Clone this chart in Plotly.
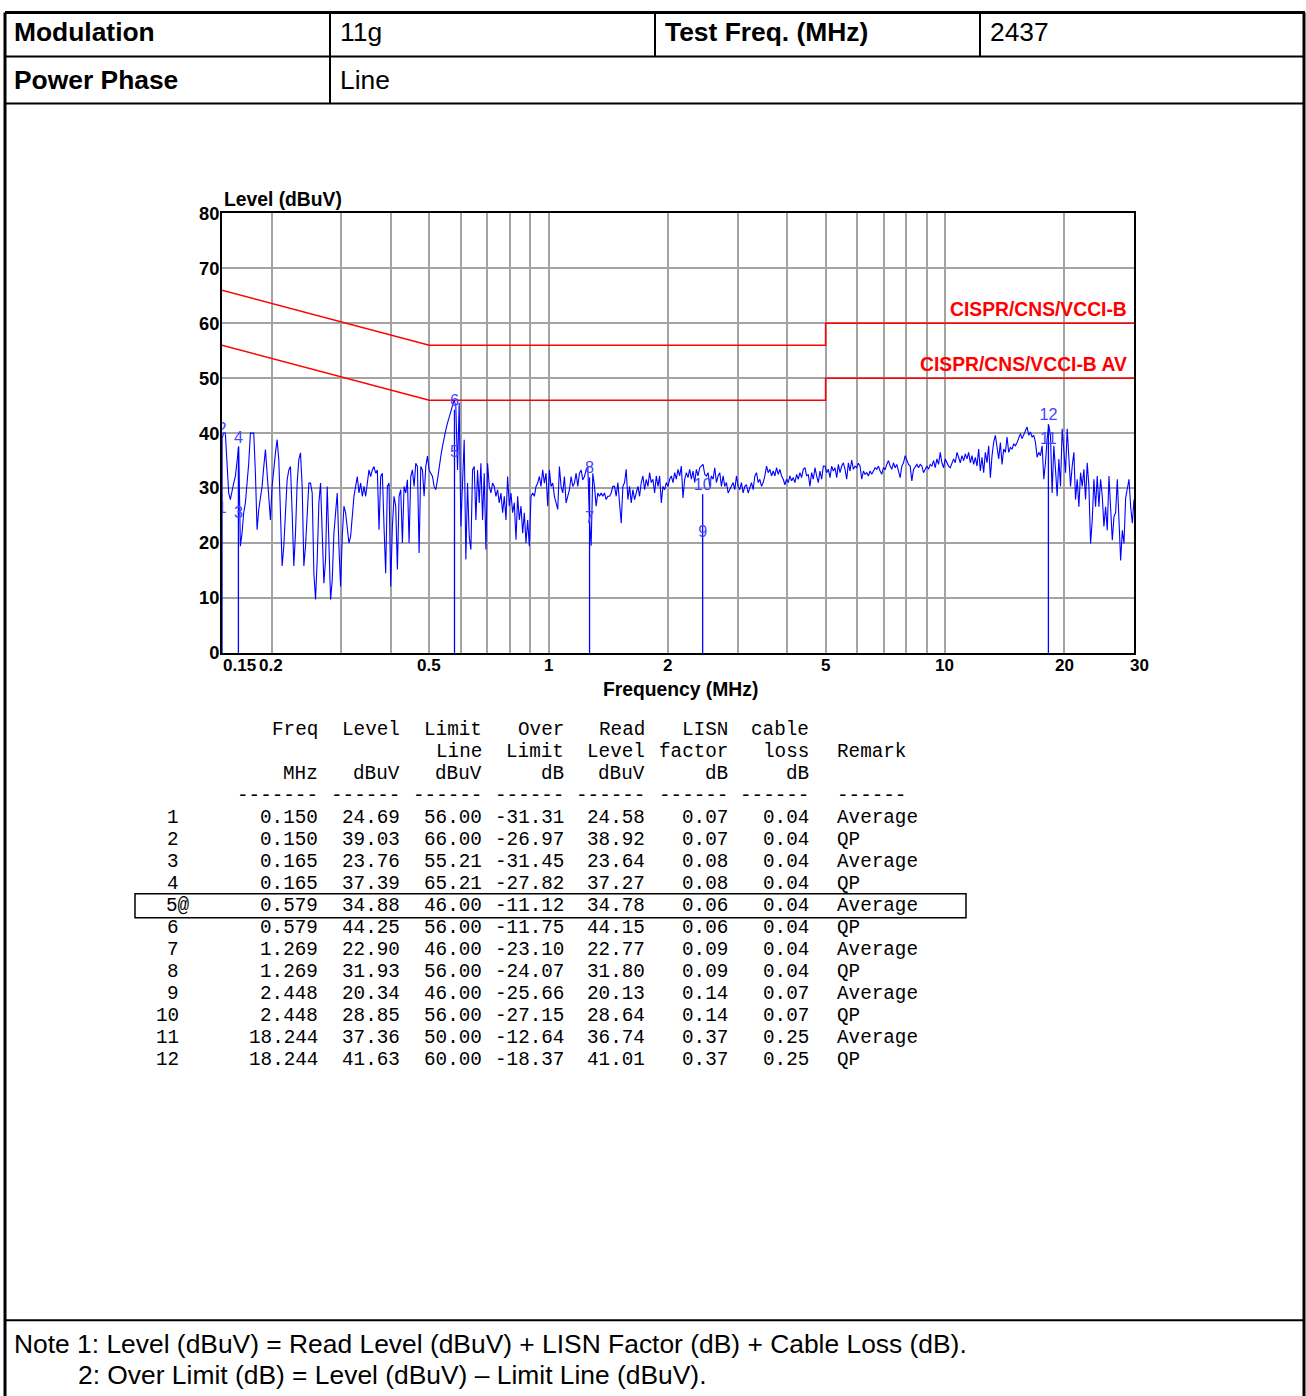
import numpy as np
import plotly.graph_objects as go

W, H = 1322, 1406
# reference-pixel -> figure-pixel mapping (measured from the rendered page)
AX, SX = 0.0, 1.0
AY, SY = 9.5, 0.986
FS = 1.015  # font scale
SANS = "Liberation Sans, Arial, Helvetica, sans-serif"
MONO = "Liberation Mono, Courier New, monospace"

hdr_modulation = "11g"
hdr_test_freq = "2437"
hdr_phase = "Line"

qp_limit_freq = [0.15, 0.5, 5, 5, 30]
qp_limit_level = [66, 56, 56, 60, 60]
av_limit_freq = [0.15, 0.5, 5, 5, 30]
av_limit_level = [56, 46, 46, 50, 50]
qp_limit_name = "CISPR/CNS/VCCI-B"
av_limit_name = "CISPR/CNS/VCCI-B AV"

sweep_level_a = [39.0, 40.0, 40.0, 33.9, 29.1, 27.9, 29.7, 30.9, 32.1, 34.5,
                 37.6, 19.4, 21.8, 25.5, 27.3, 30.9, 34.5, 40.0, 40.0, 40.0,
                 32.7, 22.4, 26.1, 28.5, 30.3, 33.9, 37.0, 32.7, 27.3, 24.2,
                 30.3, 33.9, 36.4, 38.8, 35.2, 25.5, 15.8, 19.4, 26.7, 31.5,
                 33.3, 33.9, 25.5, 15.8, 21.8, 30.9, 35.2, 36.4, 30.3, 15.8,
                 19.4, 25.5, 30.9, 30.9, 29.1, 14.5, 9.7, 17.0, 27.3, 30.9,
                 21.2, 12.7, 17.0, 30.3, 20.0, 9.7, 13.3, 21.8, 25.5, 29.1,
                 19.4, 12.1, 21.2, 26.7, 25.5, 22.4, 20.0, 21.2, 25.5, 28.5,
                 30.3, 32.1, 29.1, 30.9, 28.5, 30.3, 28.5, 31.5, 33.3, 32.1,
                 33.3, 33.9, 32.7, 33.3, 22.4, 32.1, 32.7, 23.0, 14.5, 30.3,
                 30.9, 12.1, 23.0, 28.5, 26.7, 15.2, 28.5, 29.7, 20.0, 30.3,
                 29.1, 31.5, 20.0, 32.1, 33.3, 30.3, 34.5, 33.9]
sweep_level_b = [18.2, 33.9, 33.3, 28.5, 33.9, 35.8, 33.3, 32.7, 32.1, 30.3,
                 29.7, 31.5, 33.9, 35.8, 37.6, 39.4, 40.6, 41.8, 43.0, 44.2,
                 45.0, 46.0, 44.8, 33.3, 45.5, 23.0, 30.3, 38.8, 17.0, 30.9,
                 21.2, 18.8, 33.3, 33.9, 24.2, 33.3, 27.3, 34.5, 24.2, 32.7,
                 18.8, 34.5, 30.3, 29.1, 30.9, 30.3, 28.5, 29.7, 27.3, 29.1,
                 25.5, 28.5, 24.2, 32.1, 26.7, 29.1, 25.5, 27.3, 20.6, 28.5,
                 24.2, 26.7, 21.8, 25.5, 20.0, 24.2, 19.4, 28.5, 29.1, 28.5,
                 30.3, 30.9, 32.1, 30.3, 33.3, 30.9, 32.7, 26.7, 33.3, 30.3,
                 30.9, 28.5, 27.3, 26.1, 33.9, 30.3, 29.1, 32.1, 27.3, 28.5,
                 29.7, 32.1, 30.3, 30.9, 32.7, 30.3, 32.7, 33.3, 31.5, 32.1,
                 33.3, 33.9, 24.2, 19.5, 32.7, 30.3, 26.7, 29.1, 28.5, 29.1,
                 28.5, 29.1, 27.9, 28.5, 28.5, 29.1, 30.3]
sweep_level_c = [30.3, 28.5, 31.0, 27.3, 23.6, 30.3, 31.0, 33.4, 27.9, 30.3,
                 27.3, 29.7, 27.9, 29.1, 30.3, 28.5, 31.0, 32.2, 29.7, 31.6,
                 30.3, 32.8, 31.0, 31.6, 29.1, 32.2, 30.3, 32.2, 27.3, 30.3,
                 29.7, 31.0, 30.3, 31.6, 32.2, 31.0, 32.8, 31.6, 33.4, 32.2,
                 34.0, 28.2, 31.6, 32.8, 31.9, 33.4, 31.6, 33.1, 31.0, 33.4,
                 32.2, 33.7, 34.0, 34.3, 32.5, 32.2, 32.8, 30.3, 32.2, 31.6,
                 33.7, 31.0, 32.2, 32.8, 30.3, 32.2, 30.3, 31.0, 29.1, 29.7,
                 30.3, 31.0, 29.7, 32.2, 30.3, 29.7, 31.0, 29.1, 30.3, 30.6,
                 29.1, 30.3, 31.0, 29.7, 32.2, 32.8, 31.0, 31.6, 30.3, 31.0,
                 32.2, 34.0, 32.8, 33.4, 32.2, 33.1, 32.2, 33.7, 32.5, 33.4,
                 32.2, 31.6, 30.6, 31.6, 31.0, 32.2, 31.3, 31.9, 31.0, 32.5,
                 31.6, 32.8, 31.9, 33.4, 33.7, 32.2, 32.5, 30.3, 32.8, 31.6,
                 33.7, 32.2, 31.0, 33.1, 31.6, 34.0, 34.0, 32.8, 33.4, 31.9,
                 34.0, 33.1, 33.7, 31.9, 34.3, 32.8, 34.0, 34.6, 33.4, 31.6,
                 34.6, 33.1, 35.1, 33.4, 34.0, 33.7, 34.5, 34.0, 31.6, 33.1,
                 32.5, 32.8, 32.2, 33.1]
sweep_level_d = [32.5, 33.1, 33.7, 33.4, 34.0, 33.1, 32.5, 33.7, 33.4, 34.3,
                 35.0, 34.0, 33.4, 34.6, 33.7, 34.3, 32.8, 31.9, 34.0, 34.6,
                 35.9, 35.0, 34.3, 34.0, 31.3, 33.4, 34.0, 34.3, 33.7, 34.3,
                 34.0, 32.8, 33.4, 34.0, 33.4, 34.3, 34.0, 35.0, 33.7, 35.3,
                 34.3, 36.5, 34.6, 33.7, 35.3, 34.6, 34.0, 33.7, 34.6, 35.3,
                 34.6, 36.5, 35.6, 34.6, 35.9, 35.0, 36.2, 35.3, 36.5, 34.6,
                 35.9, 34.3, 35.6, 34.0, 37.1, 33.1, 35.6, 32.8, 36.5, 34.6,
                 37.7, 31.9, 35.9, 38.3, 39.6, 37.1, 35.3, 38.3, 34.3, 37.1,
                 36.5, 39.3, 36.5, 37.4, 37.1, 38.0, 37.7, 38.3, 39.3, 39.9,
                 39.0, 39.6, 40.2, 41.1, 39.6, 40.2, 39.3, 39.6, 38.3, 35.6,
                 36.5, 35.9, 37.7, 31.6, 34.6, 39.0, 41.4, 39.6, 29.1, 37.7,
                 33.4, 28.5, 35.3, 30.3, 40.8, 37.1, 32.8, 40.8, 36.5, 30.3,
                 34.0, 36.5, 27.9, 31.6, 26.6, 32.8, 30.3, 33.4, 27.9, 34.6,
                 30.3, 19.9, 24.2, 31.6, 26.6, 32.2, 26.6, 31.6, 28.5, 23.0,
                 26.6, 22.3, 32.2, 27.3, 20.5, 24.8, 25.5, 31.6, 22.3, 16.8,
                 22.3, 19.9, 28.2, 29.7, 31.6, 26.6, 23.6, 27.9]
sweep_start_mhz, sweep_stop_mhz = 0.15, 30.0

mk_no = ["1", "2", "3", "4", "5@", "6", "7", "8", "9", "10", "11", "12"]
mk_freq = [0.150, 0.150, 0.165, 0.165, 0.579, 0.579, 1.269, 1.269, 2.448, 2.448, 18.244, 18.244]
mk_level = [24.69, 39.03, 23.76, 37.39, 34.88, 44.25, 22.90, 31.93, 20.34, 28.85, 37.36, 41.63]
mk_limit = [56.00, 66.00, 55.21, 65.21, 46.00, 56.00, 46.00, 56.00, 46.00, 56.00, 50.00, 60.00]
mk_over = [-31.31, -26.97, -31.45, -27.82, -11.12, -11.75, -23.10, -24.07, -25.66, -27.15, -12.64, -18.37]
mk_read = [24.58, 38.92, 23.64, 37.27, 34.78, 44.15, 22.77, 31.80, 20.13, 28.64, 36.74, 41.01]
mk_lisn = [0.07, 0.07, 0.08, 0.08, 0.06, 0.06, 0.09, 0.09, 0.14, 0.14, 0.37, 0.37]
mk_cable = [0.04, 0.04, 0.04, 0.04, 0.04, 0.04, 0.04, 0.04, 0.07, 0.07, 0.25, 0.25]
mk_remark = ["Average", "QP"] * 6

x_tick_vals = [0.15, 0.2, 0.5, 1, 2, 5, 10, 20, 30]
x_tick_text = ["0.15", "0.2", "0.5", "1", "2", "5", "10", "20", "30"]
x_minor_grid = [0.3, 0.4, 0.6, 0.7, 0.8, 0.9, 3, 4, 6, 7, 8, 9]
y_range = [0, 80]

sweep_level = sweep_level_a + sweep_level_b + sweep_level_c + sweep_level_d
sweep_freq = np.geomspace(sweep_start_mhz, sweep_stop_mhz, len(sweep_level))


def fx(X):
    return max((X - AX) / SX, 1.5)


def fy(Y):
    return max((Y - AY) / SY, 1.5)


def px(X):
    return fx(X) / W


def py(Y):
    return 1 - fy(Y) / H


def fs(s):
    return round(s * FS, 1)


PLOT_L, PLOT_R, PLOT_T, PLOT_B = 222, 1134, 212, 652

fig = go.Figure()
fig.add_trace(go.Scatter(x=qp_limit_freq, y=qp_limit_level, mode="lines",
                         line=dict(color="#ff0000", width=1.5), hoverinfo="skip"))
fig.add_trace(go.Scatter(x=av_limit_freq, y=av_limit_level, mode="lines",
                         line=dict(color="#ff0000", width=1.5), hoverinfo="skip"))

ml_x, ml_y = [], []
for f in sorted(set(mk_freq)):
    top = max(l for ff, l in zip(mk_freq, mk_level) if ff == f)
    ml_x += [f, f, None]
    ml_y += [0, top, None]
fig.add_trace(go.Scatter(x=ml_x, y=ml_y, mode="lines",
                         line=dict(color="#0000ff", width=1.3), hoverinfo="skip"))

fig.add_trace(go.Scatter(x=sweep_freq, y=sweep_level, mode="lines",
                         line=dict(color="#0000ff", width=1.1), hoverinfo="skip"))

fig.add_trace(go.Scatter(x=mk_freq, y=mk_level, mode="text",
                         text=[n.replace("@", "") for n in mk_no],
                         textposition="top center", cliponaxis=True,
                         textfont=dict(family=SANS, size=fs(16), color="#4646ff"),
                         hoverinfo="skip"))

GRID = "#a3a3a3"
fig.update_xaxes(type="log", range=[np.log10(sweep_start_mhz), np.log10(sweep_stop_mhz)],
                 domain=[px(PLOT_L), px(PLOT_R)],
                 tickvals=x_tick_vals, showticklabels=False,
                 showgrid=True, gridcolor=GRID, gridwidth=1.5,
                 minor=dict(tickvals=x_minor_grid, showgrid=True, gridcolor=GRID, gridwidth=1.5),
                 showline=True, mirror=True, linecolor="black", linewidth=2,
                 ticks="", zeroline=False, fixedrange=True)
fig.update_yaxes(range=y_range, dtick=10,
                 domain=[py(PLOT_B), py(PLOT_T)],
                 tickfont=dict(family=SANS, size=fs(18), color="black", weight="bold"),
                 ticklabelstandoff=-3,
                 showgrid=True, gridcolor=GRID, gridwidth=1.5,
                 showline=True, mirror=True, linecolor="black", linewidth=2,
                 ticks="", zeroline=False, fixedrange=True)

ann = []

# x tick labels, placed through the x axis scale (0.15 sits right of its tick as in the source)
x_tick_anchor = {0.15: ("left", 0), 0.2: ("center", -1), 30: ("center", 5)}
for v, lab in zip(x_tick_vals, x_tick_text):
    anc, sh = x_tick_anchor.get(v, ("center", 0))
    ann.append(dict(x=np.log10(v), y=py(665), xref="x", yref="paper", text=lab,
                    showarrow=False, xanchor=anc, yanchor="middle", xshift=sh, borderpad=0,
                    font=dict(family=SANS, size=17, color="black", weight="bold")))


def txt(x, y, s, size, anchor="left", bold=False, family=SANS, color="black"):
    ann.append(dict(x=px(x), y=py(y), xref="paper", yref="paper", text=s,
                    showarrow=False, xanchor=anchor, yanchor="middle",
                    font=dict(family=family, size=fs(size), color=color,
                              weight="bold" if bold else "normal")))


LEFT_TXT = 12
txt(LEFT_TXT, 31, "Modulation", 26, bold=True)
txt(338, 31, hdr_modulation, 26)
txt(663, 31, "Test Freq. (MHz)", 26, bold=True)
txt(988, 31, hdr_test_freq, 26)
txt(LEFT_TXT, 79, "Power Phase", 26, bold=True)
txt(338, 79, hdr_phase, 26)

txt(PLOT_L, 198, "Level (dBuV)", 19, bold=True)
txt((PLOT_L + PLOT_R) / 2 + 2, 689, "Frequency (MHz)", 19, anchor="center", bold=True)

for name, lvl in [(qp_limit_name, qp_limit_level[-1]), (av_limit_name, av_limit_level[-1])]:
    ann.append(dict(x=np.log10(qp_limit_freq[-1]), y=lvl, xref="x", yref="y", text=name,
                    showarrow=False, xanchor="right", yanchor="bottom", xshift=-5, yshift=1,
                    font=dict(family=SANS, size=fs(19), color="#ff0000", weight="bold")))

col_r = [320, 402, 484, 566, 647, 730, 811]
REM_X = 835
hdr1 = ["Freq", "Level", "Limit", "Over", "Read", "LISN", "cable"]
hdr2 = ["", "", "Line", "Limit", "Level", "factor", "loss"]
hdr3 = ["MHz", "dBuV", "dBuV", "dB", "dBuV", "dB", "dB"]
dash = ["-------"] + ["------"] * 6
MS = 19
for row_y, cells in [(729, hdr1), (751, hdr2), (773, hdr3), (795, dash)]:
    for xr, s in zip(col_r, cells):
        if s:
            txt(xr, row_y, s, MS, anchor="right", family=MONO)
txt(REM_X, 751, "Remark", MS, family=MONO)
txt(REM_X, 795, "------", MS, family=MONO)

ROW0, ROWH = 817, 22
for i in range(len(mk_no)):
    y = ROW0 + ROWH * i
    no = mk_no[i]
    txt(191.5 if "@" in no else 180.5, y, no, MS, anchor="right", family=MONO)
    vals = ["%.3f" % mk_freq[i], "%.2f" % mk_level[i], "%.2f" % mk_limit[i],
            "%.2f" % mk_over[i], "%.2f" % mk_read[i], "%.2f" % mk_lisn[i], "%.2f" % mk_cable[i]]
    for xr, s in zip(col_r, vals):
        txt(xr, y, s, MS, anchor="right", family=MONO)
    txt(REM_X, y, mk_remark[i], MS, family=MONO)

txt(LEFT_TXT, 1344, "Note 1: Level (dBuV) = Read Level (dBuV) + LISN Factor (dB) + Cable Loss (dB).", 26)
txt(76, 1375, "2: Over Limit (dB) = Level (dBuV) \u2013 Limit Line (dBuV).", 26)

shapes = []


def line(x0, y0, x1, y1, w, color="black"):
    shapes.append(dict(type="line", xref="paper", yref="paper", x0=px(x0), y0=py(y0),
                       x1=px(x1), y1=py(y1), line=dict(color=color, width=w)))


L_EDGE, R_EDGE, BOT = 5, 1304, 1396
line(L_EDGE, 7, R_EDGE + 1, 7, 3)
line(L_EDGE, 6, L_EDGE, BOT + 4, 3)
line(R_EDGE, 6, R_EDGE, BOT + 4, 3)
line(L_EDGE, 55, R_EDGE, 55, 2)
line(L_EDGE, 102, R_EDGE, 102, 2)
line(L_EDGE, 1320, R_EDGE, 1320, 2)
line(330, 7, 330, 102, 2)
line(655, 7, 655, 55, 2)
line(980, 7, 980, 55, 2)

hi = [i for i, n in enumerate(mk_no) if "@" in n][0]
hy = ROW0 + ROWH * hi
shapes.append(dict(type="rect", xref="paper", yref="paper", x0=px(135), x1=px(966),
                   y0=py(hy - 12), y1=py(hy + 12), line=dict(color="black", width=1.5)))

fig.update_layout(width=W, height=H, autosize=False, margin=dict(l=0, r=0, t=0, b=0),
                  paper_bgcolor="white", plot_bgcolor="white", showlegend=False,
                  annotations=ann, shapes=shapes)

fig.write_html("out.html")
